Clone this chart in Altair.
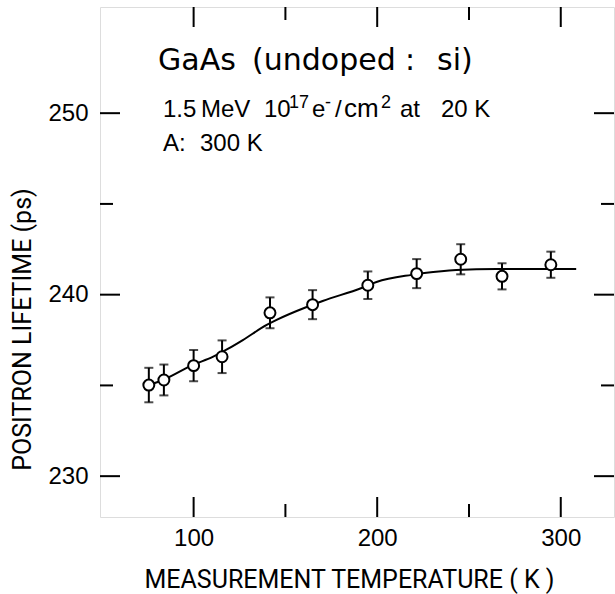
import altair as alt
import pandas as pd

# measured points
temps = [75.6, 83.8, 100.0, 115.5, 141.6, 164.8, 194.9, 221.5, 245.5, 268.0, 294.6]
lifetimes = [235.02, 235.30, 236.09, 236.58, 239.00, 239.45, 240.52, 241.16, 241.95, 241.01, 241.65]
errors = [0.95, 0.85, 0.86, 0.90, 0.85, 0.80, 0.76, 0.80, 0.83, 0.72, 0.72]

# fitted curve
curve_t = [75.6, 83.3, 99.6, 110.4, 118.6, 126.8, 139.8, 145.2, 161.6, 170.3, 191.5, 199.6,
           218.7, 225.7, 243.1, 264.9, 292.1, 308.4]
curve_v = [235.02, 235.30, 236.13, 236.57, 237.01, 237.50, 238.33, 238.61, 239.32, 239.65,
           240.37, 240.70, 241.09, 241.19, 241.36, 241.42, 241.42, 241.42]

x_major = [100, 200, 300]
x_minor = [150, 250]
y_major = [230, 240, 250]
y_minor = [235, 245]

x_title = "MEASUREMENT TEMPERATURE ( K )"
y_title = "POSITRON LIFETIME (ps)"

W, H = 514, 510
XDOM = [49, 329]
YDOM = [227.75, 255.85]

pts = pd.DataFrame({"T": temps, "L": lifetimes, "E": errors})
pts["lo"] = pts["L"] - pts["E"]
pts["hi"] = pts["L"] + pts["E"]
curve = pd.DataFrame({"T": curve_t, "L": curve_v})

LABEL_FONT = "Liberation Sans"
TITLE_FONT = "Roboto"

xscale = alt.Scale(domain=XDOM, nice=False, zero=False)
yscale = alt.Scale(domain=YDOM, nice=False, zero=False)

xaxis = alt.Axis(values=x_major, ticks=False, tickSize=0, domain=False, grid=False,
                 labelFont=LABEL_FONT, labelFontSize=24, labelColor="black",
                 labelPadding=28, labelBaseline="alphabetic", labelFontWeight="normal",
                 title=x_title, titleFont=TITLE_FONT,
                 titleFontSize=25, titleFontWeight="normal", titleColor="black",
                 titleX=249, titleY=70, titleAlign="center", titleBaseline="alphabetic")
yaxis = alt.Axis(values=y_major, ticks=False, tickSize=0, domain=False, grid=False,
                 labelFont=LABEL_FONT, labelFontSize=24, labelColor="black",
                 labelPadding=12, labelBaseline="middle",
                 title=y_title, titleFont=TITLE_FONT,
                 titleFontSize=25, titleFontWeight="normal", titleColor="black",
                 titleX=-78, titleY=322, titleAngle=270, titleAlign="center",
                 titleBaseline="middle")

base = alt.Chart(pts)

line = alt.Chart(curve).mark_line(color="black", strokeWidth=2, interpolate="monotone").encode(
    x=alt.X("T:Q", scale=xscale, axis=xaxis),
    y=alt.Y("L:Q", scale=yscale, axis=yaxis),
)

err = base.mark_rule(color="black", strokeWidth=2).encode(
    x=alt.X("T:Q", scale=xscale), y=alt.Y("lo:Q", scale=yscale), y2="hi:Q")
cap_lo = base.mark_tick(orient="horizontal", size=9, thickness=2, color="black").encode(
    x=alt.X("T:Q", scale=xscale), y=alt.Y("lo:Q", scale=yscale))
cap_hi = base.mark_tick(orient="horizontal", size=9, thickness=2, color="black").encode(
    x=alt.X("T:Q", scale=xscale), y=alt.Y("hi:Q", scale=yscale))
circles = base.mark_point(shape="circle", size=120, filled=False, fill="white",
                          fillOpacity=1, stroke="black", strokeWidth=2, opacity=1).encode(
    x=alt.X("T:Q", scale=xscale), y=alt.Y("L:Q", scale=yscale))


def xticks(vals, length):
    c = alt.Chart(pd.DataFrame({"v": vals}))
    bot = c.mark_rule(color="black", strokeWidth=2).encode(
        x=alt.X("v:Q", scale=xscale), y=alt.value(H), y2=alt.value(H - length))
    top = c.mark_rule(color="black", strokeWidth=2).encode(
        x=alt.X("v:Q", scale=xscale), y=alt.value(0), y2=alt.value(length))
    return [bot, top]


def yticks(vals, length):
    c = alt.Chart(pd.DataFrame({"v": vals}))
    lft = c.mark_rule(color="black", strokeWidth=2).encode(
        y=alt.Y("v:Q", scale=yscale), x=alt.value(0), x2=alt.value(length))
    rgt = c.mark_rule(color="black", strokeWidth=2).encode(
        y=alt.Y("v:Q", scale=yscale), x=alt.value(W), x2=alt.value(W - length))
    return [lft, rgt]


def label(text, px, py, size, font=LABEL_FONT):
    # px, py: pixel position inside the plot area (annotation placement)
    return alt.Chart(pd.DataFrame({"t": [text]})).mark_text(
        font=font, fontSize=size, align="left", baseline="alphabetic", color="black").encode(
        text="t:N", x=alt.value(px), y=alt.value(py))


MAIN, SUP = 24, 18
annotations = [
    # GaAs (undoped: si)
    label("GaAs", 58, 63, 30, "DejaVu Sans"),
    label("(undoped", 152, 63, 30, "DejaVu Sans"),
    label(":", 305, 63, 30, "DejaVu Sans"),
    label("si)", 337, 63, 30, "DejaVu Sans"),
    # 1.5 MeV 10^17 e-/cm^2 at 20 K
    label("1.5", 63, 110, MAIN),
    label("MeV", 101, 110, MAIN),
    label("10", 164, 110, MAIN),
    label("17", 189, 101, SUP),
    label("e", 212, 110, MAIN),
    label("-", 225, 101, SUP),
    label("/", 235, 110, MAIN),
    label("cm", 244, 110, 26),
    label("2", 281, 101, SUP),
    label("at", 300, 110, MAIN),
    label("20 K", 341, 110, MAIN),
    # A: 300 K
    label("A:", 63, 144, MAIN),
    label("300 K", 100, 144, MAIN),
]

layers = [line] + xticks(x_major, 20) + xticks(x_minor, 13) + yticks(y_major, 20) + \
    yticks(y_minor, 13) + [err, cap_lo, cap_hi, circles] + annotations

chart = alt.layer(*layers).properties(
    width=W, height=H,
    autosize=alt.AutoSizeParams(type="none"),
    padding={"left": 100, "top": 7, "right": 1, "bottom": 77},
).configure_view(stroke="black", strokeWidth=2).configure(background="white")

chart.save("out.html", embed_options={"renderer": "svg", "actions": False})
